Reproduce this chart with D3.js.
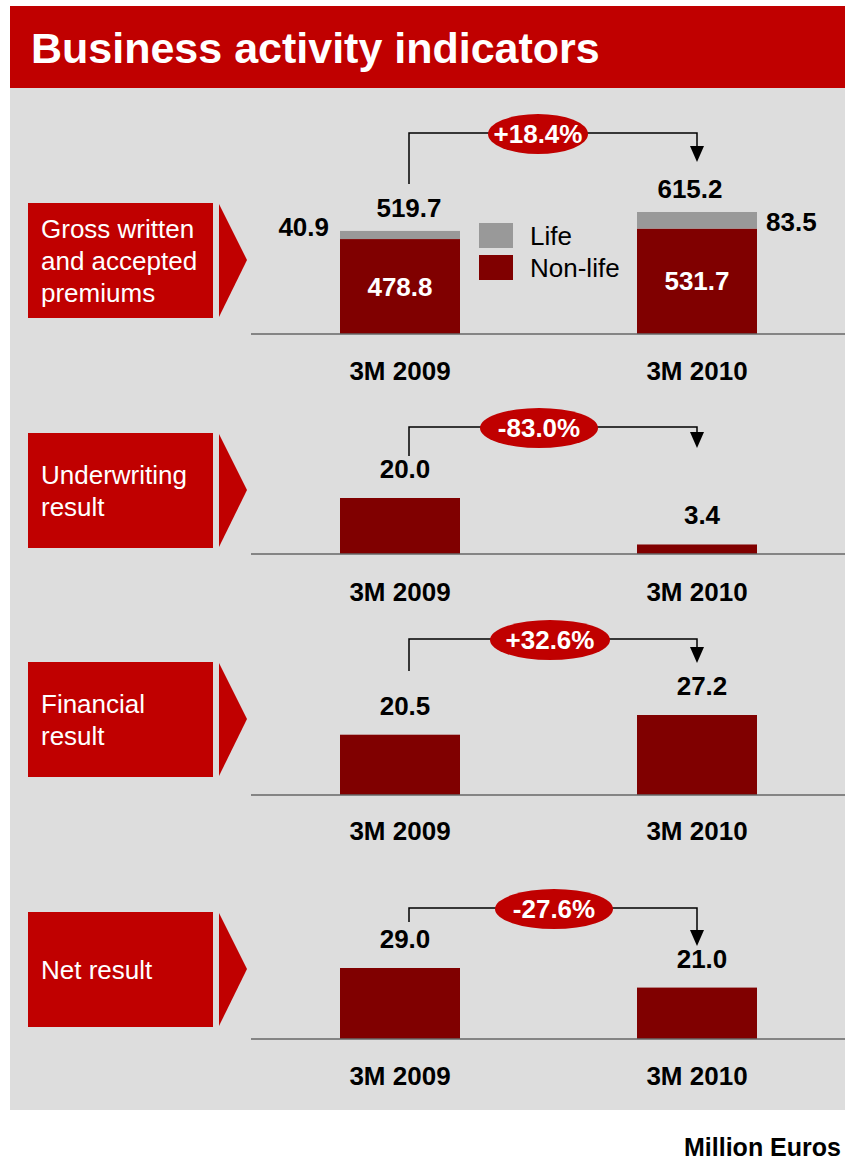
<!DOCTYPE html>
<html>
<head>
    <meta charset="utf-8">
    <title>Business activity indicators</title>
    <script src="https://cdn.jsdelivr.net/npm/d3@7/dist/d3.min.js"></script>
    <style>
        body { margin: 0; background: #fff; overflow: hidden; }
        text { font-family: "Liberation Sans", Arial, sans-serif; }
    </style>
</head>
<body>
<div id="container"></div>
<script>
    // data
    const periods = ["3M 2009", "3M 2010"];
    const indicators = [
        ["Gross written", "and accepted", "premiums"],
        ["Underwriting", "result"],
        ["Financial", "result"],
        ["Net result"]
    ];
    const nonLife = [478.8, 531.7];
    const life = [40.9, 83.5];
    const premiumTotals = [519.7, 615.2];
    const underwriting = [20.0, 3.4];
    const financial = [20.5, 27.2];
    const netResult = [29.0, 21.0];
    const changes = ["+18.4%", "-83.0%", "+32.6%", "-27.6%"];
    const legendLabels = ["Life", "Non-life"];

    const W = 845, H = 1160;
    const red = "#c00000", dark = "#800000", grey = "#999999";
    const fs = "26px";

    const svg = d3.select("#container").append("svg")
        .attr("width", W).attr("height", H);

    // title bar + panel
    svg.append("rect").attr("x", 10).attr("y", 6).attr("width", W - 10).attr("height", 82).attr("fill", red);
    svg.append("text").attr("x", 31).attr("y", 63)
        .attr("fill", "#fff").style("font-size", "43px").style("font-weight", "bold")
        .text("Business activity indicators");
    svg.append("rect").attr("x", 10).attr("y", 88).attr("width", W - 10).attr("height", 1022).attr("fill", "#dddddd");

    svg.append("text").attr("x", 684).attr("y", 1156)
        .style("font-size", "25px").style("font-weight", "bold")
        .text("Million Euros");

    const x = d3.scalePoint().domain(periods).range([400, 697]);
    const barW = 120;

    // layout of each block
    const blocks = [
        {top: 203, base: 334, bracket: 133, start: 184, tip: 162, cx: 538, rx: 50, max: 615.2, topPx: 122, cat: 380},
        {top: 433, base: 554, bracket: 427, start: 456, tip: 448, cx: 539, rx: 59, max: 20.0, topPx: 56, cat: 601},
        {top: 662, base: 795, bracket: 639, start: 671, tip: 663, cx: 550, rx: 60, max: 27.2, topPx: 80, cat: 840},
        {top: 912, base: 1039, bracket: 908, start: 922, tip: 946, cx: 554, rx: 59, max: 29.0, topPx: 71, cat: 1085}
    ];

    const singleSeries = [null, underwriting, financial, netResult];

    blocks.forEach((b, i) => {
        const g = svg.append("g");
        const y = d3.scaleLinear().domain([0, b.max]).range([b.base, b.base - b.topPx]);

        // label box + arrow
        g.append("rect").attr("x", 28).attr("y", b.top).attr("width", 185).attr("height", 115).attr("fill", red);
        g.append("path")
            .attr("d", `M219,${b.top + 1} L247,${b.top + 57} L219,${b.top + 114} Z`)
            .attr("fill", red);
        const lines = indicators[i];
        const lh = 32;
        const firstY = b.top + 57 + 10 - (lines.length - 1) * lh / 2;
        g.append("text").attr("fill", "#fff").style("font-size", fs)
            .selectAll("tspan").data(lines).join("tspan")
            .attr("x", 41).attr("y", (d, k) => firstY + k * lh)
            .text(d => d);

        // bars
        if (i === 0) {
            g.selectAll(".nl").data(periods).join("rect")
                .attr("x", d => x(d) - barW / 2)
                .attr("y", (d, k) => y(nonLife[k]))
                .attr("width", barW)
                .attr("height", (d, k) => b.base - y(nonLife[k]))
                .attr("fill", dark);
            g.selectAll(".lf").data(periods).join("rect")
                .attr("x", d => x(d) - barW / 2)
                .attr("y", (d, k) => y(nonLife[k] + life[k]))
                .attr("width", barW)
                .attr("height", (d, k) => y(nonLife[k]) - y(nonLife[k] + life[k]))
                .attr("fill", grey);
            // totals
            g.selectAll(".tot").data(periods).join("text")
                .attr("x", (d, k) => x(d) + (k === 0 ? 9 : -7))
                .attr("y", (d, k) => y(premiumTotals[k]) - 14)
                .attr("text-anchor", "middle")
                .style("font-size", fs).style("font-weight", "bold")
                .text((d, k) => premiumTotals[k].toFixed(1));
            // non-life values inside
            g.selectAll(".nlv").data(periods).join("text")
                .attr("x", d => x(d))
                .attr("y", (d, k) => (y(nonLife[k]) + b.base) / 2 + 9)
                .attr("text-anchor", "middle").attr("fill", "#fff")
                .style("font-size", fs).style("font-weight", "bold")
                .text((d, k) => nonLife[k].toFixed(1));
            // life values beside
            g.append("text").attr("x", x(periods[0]) - barW / 2 - 11).attr("y", 236)
                .attr("text-anchor", "end").style("font-size", fs).style("font-weight", "bold")
                .text(life[0].toFixed(1));
            g.append("text").attr("x", x(periods[1]) + barW / 2 + 9).attr("y", 231)
                .style("font-size", fs).style("font-weight", "bold")
                .text(life[1].toFixed(1));
            // legend
            const leg = g.selectAll(".leg").data(legendLabels).join("g")
                .attr("transform", (d, k) => `translate(479,${223 + k * 32})`);
            leg.append("rect").attr("width", 34).attr("height", 25)
                .attr("fill", (d, k) => k === 0 ? grey : dark);
            leg.append("text").attr("x", 51).attr("y", 22)
                .style("font-size", fs).text(d => d);
        } else {
            const vals = singleSeries[i];
            g.selectAll(".bar").data(periods).join("rect")
                .attr("x", d => x(d) - barW / 2)
                .attr("y", (d, k) => y(vals[k]))
                .attr("width", barW)
                .attr("height", (d, k) => b.base - y(vals[k]))
                .attr("fill", dark);
            g.selectAll(".val").data(periods).join("text")
                .attr("x", d => x(d) + 5)
                .attr("y", (d, k) => y(vals[k]) - 20)
                .attr("text-anchor", "middle")
                .style("font-size", fs).style("font-weight", "bold")
                .text((d, k) => vals[k].toFixed(1));
        }

        // baseline
        g.append("line").attr("x1", 251).attr("x2", W).attr("y1", b.base).attr("y2", b.base)
            .attr("stroke", "#666").attr("stroke-width", 1.5);

        // category labels
        g.selectAll(".cat").data(periods).join("text")
            .attr("x", d => x(d))
            .attr("y", b.cat)
            .attr("text-anchor", "middle")
            .style("font-size", fs).style("font-weight", "bold")
            .text(d => d);

        // change bracket
        const x0 = x(periods[0]) + 9, x1 = x(periods[1]);
        g.append("path")
            .attr("d", `M${x0},${b.start} V${b.bracket} H${x1} V${b.tip - 14}`)
            .attr("fill", "none").attr("stroke", "#000").attr("stroke-width", 1.5);
        g.append("path")
            .attr("d", `M${x1 - 7},${b.tip - 16} L${x1 + 7},${b.tip - 16} L${x1},${b.tip} Z`)
            .attr("fill", "#000");
        g.append("ellipse").attr("cx", b.cx).attr("cy", b.bracket + 1)
            .attr("rx", b.rx).attr("ry", 20).attr("fill", red);
        g.append("text").attr("x", b.cx).attr("y", b.bracket + 10)
            .attr("text-anchor", "middle").attr("fill", "#fff")
            .style("font-size", fs).style("font-weight", "bold")
            .text(changes[i]);
    });
</script>
</body>
</html>
